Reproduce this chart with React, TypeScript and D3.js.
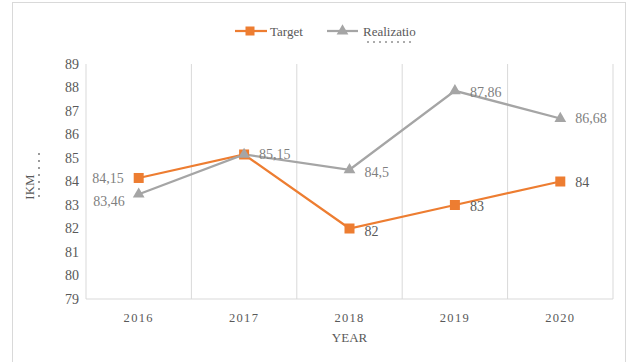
import React from "react";
import * as d3 from "d3";

const years = ["2016", "2017", "2018", "2019", "2020"];
const target = [84.15, 85.15, 82, 83, 84];
const realization = [83.46, 85.15, 84.5, 87.86, 86.68];
const targetLabels = ["84,15", "", "82", "83", "84"];
const realLabels = ["83,46", "85,15", "84,5", "87,86", "86,68"];
const yTicks = [79, 80, 81, 82, 83, 84, 85, 86, 87, 88, 89];

const W = 629, H = 362;
const M = { left: 86, right: 16, top: 64, bottom: 63 };
const ORANGE = "#ED7D31";
const GRAY = "#A5A5A5";
const TEXT = "#595959";
const FONT = "Liberation Serif, Times New Roman, DejaVu Serif, serif";

export default function App() {
  const x = d3.scaleBand().domain(years).range([M.left, W - M.right]).padding(0);
  const y = d3.scaleLinear().domain([79, 89]).range([H - M.bottom, M.top]);
  const cx = (d: string) => (x(d) as number) + x.bandwidth() / 2;
  const line = d3.line<number>().x((_, i) => cx(years[i])).y((v) => y(v));
  const tri = d3.symbol().type(d3.symbolTriangle).size(60)();
  const boundaries = years.map((d) => x(d) as number).concat([W - M.right]);
  const tDy = [0, 0, 3, 1, 1];
  const rDy = [7, 0, 2, 1, 0];

  return (
    <svg width={W} height={H} style={{ position: "absolute", left: 0, top: 0, fontFamily: FONT }}>
      <rect x={0} y={0} width={W} height={H} fill="#fff" />
      <rect x={12.5} y={2.5} width={613} height={370} fill="none" stroke="#d9d9d9" />
      {/* gridlines */}
      {boundaries.map((b, i) => (
        <line key={i} x1={b} x2={b} y1={y(89)} y2={y(79)} stroke="#d9d9d9" strokeWidth={1} />
      ))}
      <line x1={M.left} x2={W - M.right} y1={y(79)} y2={y(79)} stroke="#d9d9d9" />
      {/* y ticks */}
      {yTicks.map((t) => (
        <text key={t} x={79} y={y(t)} dy="0.35em" textAnchor="end" fontSize={14} fill={TEXT}>{t}</text>
      ))}
      {/* x ticks */}
      {years.map((d) => (
        <text key={d} x={cx(d)} y={322} textAnchor="middle" fontSize={12.5} letterSpacing={1.3} fill={TEXT}>{d}</text>
      ))}
      <text x={cx("2018")} y={342} textAnchor="middle" fontSize={13} fill={TEXT}>YEAR</text>
      <text transform={`translate(34,187) rotate(-90)`} textAnchor="middle" fontSize={13} fill={TEXT}>IKM</text>
      <line x1={39} x2={39} y1={153} y2={197} stroke={TEXT} strokeDasharray="2,5" strokeWidth={1.2} />
      {/* lines */}
      <path d={line(target) || ""} fill="none" stroke={ORANGE} strokeWidth={2.25} />
      <path d={line(realization) || ""} fill="none" stroke={GRAY} strokeWidth={2.25} />
      {target.map((v, i) => (
        <rect key={i} x={cx(years[i]) - 5} y={y(v) - 5} width={10} height={10} fill={ORANGE} />
      ))}
      {realization.map((v, i) => (
        <path key={i} d={tri || ""} transform={`translate(${cx(years[i])},${y(v)})`} fill={GRAY} />
      ))}
      {/* data labels */}
      {target.map((v, i) =>
        targetLabels[i] ? (
          <text key={i} x={i === 0 ? cx(years[i]) - 15 : cx(years[i]) + 15} y={y(v) + tDy[i]} dy="0.35em"
            textAnchor={i === 0 ? "end" : "start"} fontSize={14} fill={i === 0 ? "#7f7f7f" : TEXT}>{targetLabels[i]}</text>
        ) : null
      )}
      {realization.map((v, i) => (
        <text key={i} x={i === 0 ? cx(years[i]) - 14 : cx(years[i]) + 15}
          y={y(v) + rDy[i]} dy="0.35em"
          textAnchor={i === 0 ? "end" : "start"} fontSize={14} fill="#7f7f7f">{realLabels[i]}</text>
      ))}
      {/* legend */}
      <line x1={235} x2={267} y1={31} y2={31} stroke={ORANGE} strokeWidth={2.25} />
      <rect x={245.5} y={26.5} width={9} height={9} fill={ORANGE} />
      <text x={270} y={31} dy="0.35em" fontSize={13} fill={TEXT}>Target</text>
      <line x1={327} x2={358} y1={31} y2={31} stroke={GRAY} strokeWidth={2.25} />
      <path d={tri || ""} transform="translate(342.5,31)" fill={GRAY} />
      <text x={363} y={31} dy="0.35em" fontSize={13} fill={TEXT}>Realizatio</text>
      <line x1={367} x2={411} y1={42} y2={42} stroke={TEXT} strokeDasharray="2,4" strokeWidth={1} />
    </svg>
  );
}
